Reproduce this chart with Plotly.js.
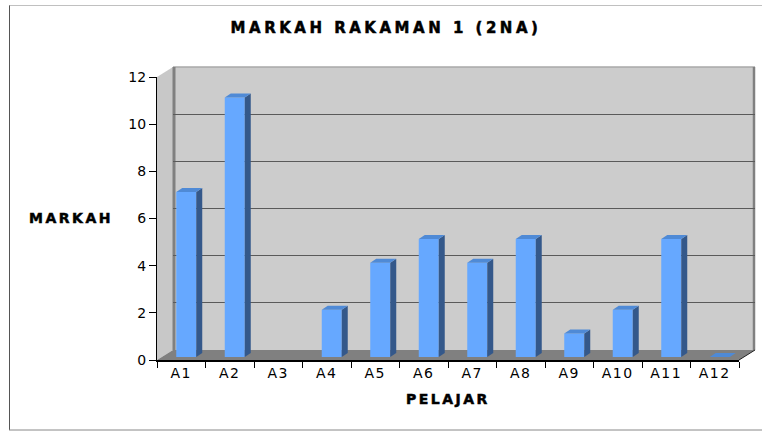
<!DOCTYPE html>
<html>
<head>
<meta charset="utf-8">
<script src="https://cdn.plot.ly/plotly-3.0.1.min.js"></script>
<style>
  html, body { margin: 0; padding: 0; background: #ffffff; }
  #chart { width: 762px; height: 432px; }
  .gtitle { letter-spacing: 3.5px; font-weight: bold; stroke: #000000; stroke-width: 0.5px; }
  .annotation-text { letter-spacing: 2.5px; font-weight: bold; stroke: #000000; stroke-width: 0.5px; }
  .xtick text { letter-spacing: 1.5px; }
</style>
</head>
<body>
<div id="chart"></div>
<script>
// ---- data ----
const categories = ['A1','A2','A3','A4','A5','A6','A7','A8','A9','A10','A11','A12'];
const values = [7, 11, null, 2, 4, 5, 4, 5, 1, 2, 5, 0];
const yTicks = [0, 2, 4, 6, 8, 10, 12];
const chartTitle = 'MARKAH RAKAMAN 1 (2NA)';
const xTitle = 'PELAJAR';
const yTitle = 'MARKAH';

// ---- geometry (pixels) ----
const W = 762, H = 432;
const FONT = 'DejaVu Sans, Verdana, sans-serif';
const front = {x0: 157, x1: 739, yBot: 360, yTop: 77};   // front plane (axis)
const depth = {dx: 16, dy: -10};                          // front -> back wall
const barPlane = {dx: 5, dy: -3};                         // front -> bar front face
const barDepth = {dx: 6, dy: -4};                         // bar thickness
const barWidthPx = 20;
const yMax = 12;

const px = x => x / W;
const py = y => 1 - y / H;
const nCat = categories.length;
const unitX = (front.x1 - front.x0) / nCat;
const unitY = (front.yBot - front.yTop) / yMax;

const back = {x0: front.x0 + depth.dx, x1: front.x1 + depth.dx,
              yBot: front.yBot + depth.dy, yTop: front.yTop + depth.dy};
const bars = {x0: front.x0 + barPlane.dx, x1: front.x1 + barPlane.dx,
              yBot: front.yBot + barPlane.dy, yTop: front.yTop + barPlane.dy};

// ---- 3D bar faces, built from the data ----
const idx = categories.map((c, i) => i);
const hw = barWidthPx / unitX / 2;
const ddx = barDepth.dx / unitX;
const ddy = -barDepth.dy / unitY;
const sideX = [], sideY = [], topX = [], topY = [];
idx.forEach(i => {
  const v = values[i];
  if (v === null || v === undefined) return;
  if (v > 0) {
    sideX.push(i + hw, i + hw, i + hw + ddx, i + hw + ddx, i + hw, null);
    sideY.push(0, v, v + ddy, ddy, 0, null);
  }
  topX.push(i - hw, i + hw, i + hw + ddx, i - hw + ddx, i - hw, null);
  topY.push(v, v, v + ddy, v + ddy, v, null);
});

// side wall diagonals (from front ticks to back wall)
const sdx = -depth.dx / unitX, sdy = depth.dy / unitY;
const diagX = [], diagY = [];
yTicks.forEach(t => { diagX.push(-0.5 + sdx, -0.5, null); diagY.push(t + sdy, t, null); });

const traces = [
  { // front axis carrier (invisible)
    type: 'scatter', mode: 'markers', x: categories, y: values,
    xaxis: 'x', yaxis: 'y', marker: {opacity: 0}, hoverinfo: 'skip', showlegend: false
  },
  { // side-wall grid diagonals
    type: 'scatter', mode: 'lines', x: diagX, y: diagY, xaxis: 'x2', yaxis: 'y2',
    line: {color: '#333333', width: 1}, cliponaxis: false, hoverinfo: 'skip', showlegend: false
  },
  { // bar front faces
    type: 'bar', x: idx, y: values, width: 2 * hw, xaxis: 'x3', yaxis: 'y3',
    marker: {color: '#66a8ff', line: {width: 0}}, hoverinfo: 'skip', showlegend: false
  },
  { // bar side faces
    type: 'scatter', mode: 'lines', x: sideX, y: sideY, xaxis: 'x3', yaxis: 'y3',
    fill: 'toself', fillcolor: '#34588a', line: {width: 0, color: '#34588a'},
    cliponaxis: false, hoverinfo: 'skip', showlegend: false
  },
  { // bar top faces
    type: 'scatter', mode: 'lines', x: topX, y: topY, xaxis: 'x3', yaxis: 'y3',
    fill: 'toself', fillcolor: '#4f8ad6', line: {width: 0, color: '#4f8ad6'},
    cliponaxis: false, hoverinfo: 'skip', showlegend: false
  }
];

const P = (x, y) => px(x) + ',' + py(y);
const shapes = [
  // outer chart border
  {type: 'line', xref: 'paper', yref: 'paper', x0: px(9), x1: px(770), y0: py(5.5), y1: py(5.5), line: {color: '#c0c0c0', width: 1}, layer: 'below'},
  {type: 'line', xref: 'paper', yref: 'paper', x0: px(9.5), x1: px(9.5), y0: py(5.5), y1: py(430), line: {color: '#555555', width: 1}, layer: 'below'},
  {type: 'line', xref: 'paper', yref: 'paper', x0: px(9), x1: px(770), y0: py(430), y1: py(430), line: {color: '#888888', width: 1}, layer: 'below'},
  // back wall
  {type: 'rect', xref: 'paper', yref: 'paper', x0: px(back.x0), x1: px(back.x1), y0: py(back.yBot), y1: py(back.yTop),
   fillcolor: '#cccccc', line: {width: 0}, layer: 'below'},
  // side wall
  {type: 'path', xref: 'paper', yref: 'paper',
   path: 'M' + P(front.x0, front.yBot) + ' L' + P(front.x0, front.yTop) + ' L' + P(back.x0, back.yTop) + ' L' + P(back.x0, back.yBot) + ' Z',
   fillcolor: '#c8c8c8', line: {width: 0}, layer: 'below'},
  // floor
  {type: 'path', xref: 'paper', yref: 'paper',
   path: 'M' + P(front.x0, front.yBot) + ' L' + P(front.x1, front.yBot) + ' L' + P(back.x1, back.yBot) + ' L' + P(back.x0, back.yBot) + ' Z',
   fillcolor: '#808080', line: {width: 0}, layer: 'below'},
  // wall edges
  {type: 'line', xref: 'paper', yref: 'paper', x0: px(back.x0), x1: px(back.x1), y0: py(back.yTop), y1: py(back.yTop), line: {color: '#a8a8a8', width: 1.5}, layer: 'below'},
  {type: 'line', xref: 'paper', yref: 'paper', x0: px(back.x1 - 1), x1: px(back.x1 - 1), y0: py(back.yTop), y1: py(back.yBot), line: {color: '#808080', width: 2.5}, layer: 'below'},
  {type: 'line', xref: 'paper', yref: 'paper', x0: px(back.x0 + 1), x1: px(back.x0 + 1), y0: py(back.yTop), y1: py(back.yBot), line: {color: '#808080', width: 3}, layer: 'below'},
  {type: 'line', xref: 'paper', yref: 'paper', x0: px(front.x1), x1: px(back.x1), y0: py(front.yBot), y1: py(back.yBot), line: {color: '#222222', width: 1}, layer: 'below'}
];

const hidden = {visible: false, showgrid: false, zeroline: false};
const boldFont = {family: FONT, size: 15, weight: 700, color: '#000000'};
const layout = {
  width: W, height: H,
  margin: {l: 0, r: 0, t: 0, b: 0, pad: 0},
  paper_bgcolor: '#ffffff', plot_bgcolor: 'rgba(0,0,0,0)',
  font: {family: FONT, color: '#000000', size: 12},
  showlegend: false,
  title: {text: '<b>' + chartTitle + '</b>', font: boldFont,
          x: px(386), xref: 'paper', xanchor: 'center', y: py(28), yref: 'paper', yanchor: 'middle'},
  xaxis: {
    domain: [px(front.x0), px(front.x1)], anchor: 'y', type: 'category',
    categoryorder: 'array', categoryarray: categories, range: [-0.5, nCat - 0.5],
    tickson: 'boundaries', ticks: 'outside', ticklen: 6, tickcolor: '#000000', tickwidth: 1,
    showline: true, linecolor: '#000000', linewidth: 1.5, showgrid: false, zeroline: false,
    tickfont: {family: FONT, size: 14, color: '#000000'}, fixedrange: true
  },
  yaxis: {
    domain: [py(front.yBot), py(front.yTop)], anchor: 'x', range: [0, yMax],
    tickvals: yTicks, ticktext: yTicks.map(String), ticks: 'outside', ticklen: 7, tickcolor: '#000000',
    showline: true, linecolor: '#000000', linewidth: 1, showgrid: false, zeroline: false,
    tickfont: {family: FONT, size: 14, color: '#000000'}, fixedrange: true
  },
  xaxis2: Object.assign({domain: [px(back.x0), px(back.x1)], anchor: 'y2', range: [-0.5, nCat - 0.5]}, hidden),
  yaxis2: {
    domain: [py(back.yBot), py(back.yTop)], anchor: 'x2', range: [0, yMax],
    tickvals: yTicks.filter(t => t > 0 && t < yMax), showticklabels: false, ticks: '',
    showgrid: true, gridcolor: '#5a5a5a', gridwidth: 1.3, zeroline: false, showline: false, fixedrange: true
  },
  xaxis3: Object.assign({domain: [px(bars.x0), px(bars.x1)], anchor: 'y3', range: [-0.5, nCat - 0.5]}, hidden),
  yaxis3: Object.assign({domain: [py(bars.yBot), py(bars.yTop)], anchor: 'x3', range: [0, yMax]}, hidden),
  shapes: shapes,
  annotations: [
    {text: '<b>' + yTitle + '</b>', xref: 'paper', yref: 'paper', x: px(71), y: py(218), xanchor: 'center', yanchor: 'middle',
     showarrow: false, font: Object.assign({}, boldFont, {size: 14})},
    {text: '<b>' + xTitle + '</b>', xref: 'paper', yref: 'paper', x: px(448), y: py(399), xanchor: 'center', yanchor: 'middle',
     showarrow: false, font: Object.assign({}, boldFont, {size: 14})}
  ]
};

Plotly.newPlot('chart', traces, layout, {displayModeBar: false, staticPlot: true});
</script>
</body>
</html>
